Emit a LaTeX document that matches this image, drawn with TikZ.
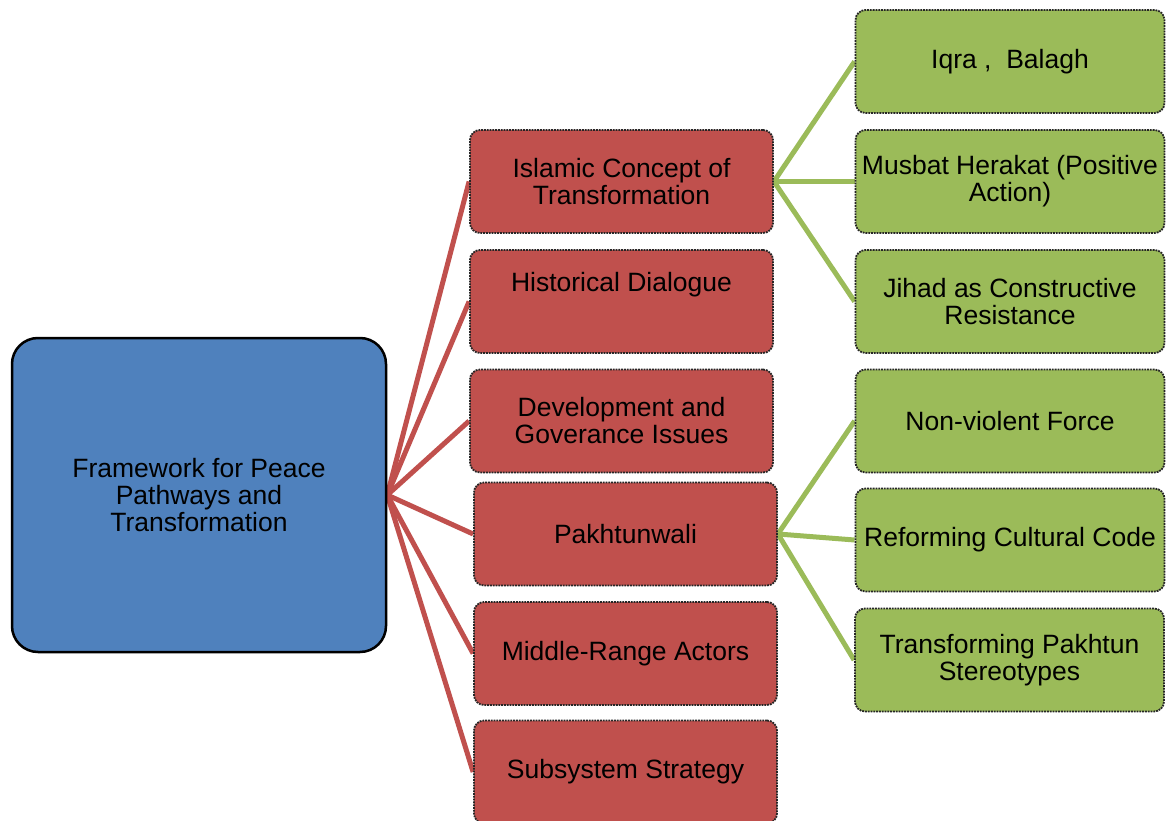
\documentclass[tikz,border=0pt]{standalone}
\usepackage{fontspec}
\setmainfont{Liberation Sans}
\usetikzlibrary{backgrounds}
\definecolor{rootblue}{HTML}{4F81BD}
\definecolor{branchred}{HTML}{C0504D}
\definecolor{leafgreen}{HTML}{9BBB59}
\tikzset{
  basebox/.style={align=center, inner sep=0pt, text=black,
    font=\fontsize{26.5}{27}\selectfont},
  rootbox/.style={basebox, fill=rootblue, draw=black, line width=2.5pt,
    rounded corners=26pt, minimum width=374pt, minimum height=314pt},
  branchbox/.style={basebox, fill=branchred, draw=black!85, densely dotted,
    line width=1.8pt, rounded corners=10pt, minimum width=303pt, minimum height=103pt},
  leafbox/.style={basebox, fill=leafgreen, draw=black!85, densely dotted,
    line width=1.8pt, rounded corners=10pt, minimum width=309pt, minimum height=103pt},
  redlink/.style={draw=branchred, line width=5pt},
  greenlink/.style={draw=leafgreen, line width=5pt}
}
\begin{document}
\begin{tikzpicture}[x=1pt, y=-1pt]
\useasboundingbox (0,0) rectangle (1173,821);
\clip (0,0) rectangle (1173,821);

% root
\node[rootbox] (root) at (199,495) {Framework for Peace\\Pathways and\\Transformation};

% second level
\node[branchbox] (islam) at (621.5,181.5) {Islamic Concept of\\Transformation};
\node[branchbox] (hist)  at (621.5,301.5) {Historical Dialogue\\[4pt]\strut};
\node[branchbox] (dev)   at (621.5,421)   {Development and\\Goverance Issues};
\node[branchbox] (pakh)  at (625.5,534)   {Pakhtunwali};
\node[branchbox] (mid)   at (625.5,653.5) {Middle-Range Actors};
\node[branchbox] (sub)   at (625.5,772)   {Subsystem Strategy};

% third level
\node[leafbox] (iqra)   at (1010,61.5)  {Iqra ,~~Balagh};
\node[leafbox] (musbat) at (1010,181.5) {Musbat Herakat (Positive\\Action)};
\node[leafbox] (jihad)  at (1010,301.5) {Jihad as Constructive\\Resistance};
\node[leafbox] (nonv)   at (1010,421)   {Non-violent Force};
\node[leafbox] (reform) at (1010,540)   {Reforming Cultural Code};
\node[leafbox] (stereo) at (1009.5,660) {Transforming Pakhtun\\Stereotypes};

% connectors
\begin{scope}[on background layer]
  \foreach \b in {islam,hist,dev,pakh,mid,sub}
    \draw[redlink] (root.east) -- (\b.west);
  \foreach \l in {iqra,musbat,jihad}
    \draw[greenlink] (islam.east) -- (\l.west);
  \foreach \l in {nonv,reform,stereo}
    \draw[greenlink] (pakh.east) -- (\l.west);
\end{scope}
\end{tikzpicture}
\end{document}
